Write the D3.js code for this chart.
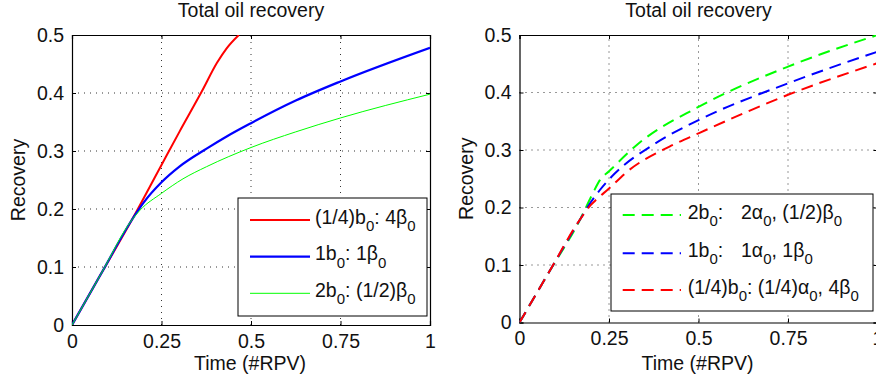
<!DOCTYPE html>
<html>
<head>
<meta charset="utf-8">
<script src="https://cdn.jsdelivr.net/npm/d3@7"></script>
<style>
  body { margin: 0; background: #fff; }
  text { font-family: "Liberation Sans", Arial, sans-serif; fill: #111; }
</style>
</head>
<body>
<svg id="chart" width="876" height="380"></svg>
<script>
// ticks
let xTicks = [0, 0.25, 0.5, 0.75, 1];
let yTicks = [0, 0.1, 0.2, 0.3, 0.4, 0.5];

// left panel: solid lines
let redTime = [0, 0.08, 0.167, 0.25, 0.3, 0.362, 0.405, 0.432, 0.466];
let redRec  = [0, 0.087, 0.181, 0.276, 0.333, 0.402, 0.452, 0.477, 0.5];
let blueTime = [0, 0.08, 0.167, 0.2, 0.25, 0.3, 0.376, 0.432, 0.5, 0.625, 0.75, 1];
let blueRec  = [0, 0.087, 0.181, 0.211, 0.246, 0.273, 0.304, 0.325, 0.348, 0.387, 0.42, 0.478];
let greenTime = [0, 0.08, 0.167, 0.19, 0.25, 0.31, 0.376, 0.5, 0.625, 0.75, 1];
let greenRec  = [0, 0.087, 0.181, 0.198, 0.227, 0.252, 0.273, 0.306, 0.333, 0.357, 0.398];

// right panel: dashed lines
let greenDTime = [0, 0.08, 0.17, 0.205, 0.225, 0.25, 0.33, 0.5, 0.75, 1];
let greenDRec  = [0, 0.085, 0.18, 0.225, 0.248, 0.263, 0.31, 0.375, 0.445, 0.5];
let blueDTime = [0, 0.08, 0.17, 0.2, 0.224, 0.266, 0.373, 0.5, 0.75, 1];
let blueDRec  = [0, 0.085, 0.18, 0.21, 0.23, 0.259, 0.309, 0.352, 0.416, 0.471];
let redDTime = [0, 0.08, 0.17, 0.2, 0.215, 0.25, 0.3, 0.419, 0.5, 0.75, 1];
let redDRec  = [0, 0.085, 0.18, 0.205, 0.214, 0.233, 0.262, 0.306, 0.329, 0.396, 0.451];

let leftLabels = ['(1/4)b_0: 4β_0', '1b_0: 1β_0', '2b_0: (1/2)β_0'];
let rightLabels = ['2b_0:\t2α_0, (1/2)β_0', '1b_0:\t1α_0, 1β_0', '(1/4)b_0: (1/4)α_0, 4β_0'];

let title = 'Total oil recovery';
let xLabel = 'Time (#RPV)';
let yLabel = 'Recovery';

let svg = d3.select('#chart');
let zip = (xs, ys) => xs.map((x, i) => [x, ys[i]]);

let panels = [
  {id: 'l', x0: 72, x1: 430, y0: 325, y1: 35, dash: null,
   series: [
     {pts: zip(redTime, redRec), color: '#ff0000', w: 2},
     {pts: zip(blueTime, blueRec), color: '#0000ff', w: 2.2},
     {pts: zip(greenTime, greenRec), color: '#00ff00', w: 1}],
   legend: {x: 238, y: 198, w: 189, h: 118, lx0: 250, lx1: 310, tx: 315, tab: 0,
     rows: [220, 256.7, 293.3], labels: leftLabels}},
  {id: 'r', x0: 519.5, x1: 877.5, y0: 322.5, y1: 35, dash: '12,7',
   series: [
     {pts: zip(greenDTime, greenDRec), color: '#00ff00', w: 2},
     {pts: zip(blueDTime, blueDRec), color: '#0000ff', w: 2},
     {pts: zip(redDTime, redDRec), color: '#ff0000', w: 2}],
   legend: {x: 611, y: 194, w: 262, h: 117, lx0: 622.7, lx1: 681, tx: 687.7, tab: 741,
     rows: [215, 253.3, 290], labels: rightLabels}}
];

function richText(sel, str, tab){
  // "_0" -> subscript, "\t" -> jump to tab position
  let parts = str.split(/(_\w|\t)/).filter(s => s.length);
  let lowered = false;
  let jumpX = null;
  parts.forEach(p => {
    if(p === '\t'){
      jumpX = tab;
      return;
    }
    let ts = sel.append('tspan');
    if(p[0] === '_'){
      ts.attr('dy', 7.5).attr('font-size', 15).text(p.slice(1));
      lowered = true;
    } else {
      ts.attr('dy', lowered ? -7.5 : 0).text(p);
      lowered = false;
    }
    if(jumpX !== null){ ts.attr('x', jumpX); jumpX = null; }
  });
}

panels.forEach(p => {
  let sx = d3.scaleLinear().domain([0, 1]).range([p.x0, p.x1]);
  let sy = d3.scaleLinear().domain([0, 0.5]).range([p.y0, p.y1]);
  let g = svg.append('g');

  g.append('clipPath').attr('id', 'clip-' + p.id)
  .append('rect')
  .attr('x', p.x0).attr('y', p.y1)
  .attr('width', p.x1 - p.x0).attr('height', p.y0 - p.y1);

  // dotted grid
  g.selectAll('.gx').data(xTicks.slice(1, -1)).enter().append('line')
  .attr('x1', d => sx(d)).attr('x2', d => sx(d))
  .attr('y1', p.y0).attr('y2', p.y1)
  .attr('stroke', '#333').attr('stroke-width', 1).attr('stroke-dasharray', '1,5');
  g.selectAll('.gy').data(yTicks.slice(1, -1)).enter().append('line')
  .attr('y1', d => sy(d)).attr('y2', d => sy(d))
  .attr('x1', p.x0).attr('x2', p.x1)
  .attr('stroke', '#333').attr('stroke-width', 1).attr('stroke-dasharray', '1,5');

  // axes with inward ticks on all sides
  let tl = 4;
  g.append('g').attr('transform', `translate(0,${p.y0})`)
  .call(d3.axisBottom(sx).tickValues(xTicks).tickFormat(d3.format('~g')).tickSize(-tl).tickPadding(9));
  g.append('g').attr('transform', `translate(0,${p.y1})`)
  .call(d3.axisTop(sx).tickValues(xTicks).tickSize(-tl).tickFormat(''));
  g.append('g').attr('transform', `translate(${p.x0},0)`)
  .call(d3.axisLeft(sy).tickValues(yTicks).tickFormat(d3.format('~g')).tickSize(-tl).tickPadding(8));
  g.append('g').attr('transform', `translate(${p.x1},0)`)
  .call(d3.axisRight(sy).tickValues(yTicks).tickSize(-tl).tickFormat(''));
  g.selectAll('.domain').attr('stroke', '#000').attr('stroke-width', 1.2);
  g.selectAll('.tick line').attr('stroke', '#000');
  g.selectAll('.tick text').attr('font-size', 19.5).attr('fill', '#111')
  .attr('font-family', '"Liberation Sans", Arial, sans-serif');

  // curves
  let line = d3.line().x(d => sx(d[0])).y(d => sy(d[1])).curve(d3.curveMonotoneX);
  g.append('g').attr('clip-path', `url(#clip-${p.id})`)
  .selectAll('path').data(p.series).enter().append('path')
  .attr('d', d => line(d.pts))
  .attr('fill', 'none')
  .attr('stroke', d => d.color)
  .attr('stroke-width', d => d.w)
  .attr('stroke-dasharray', p.dash);

  // titles
  let cx = (p.x0 + p.x1) / 2;
  g.append('text').attr('x', cx).attr('y', 17).attr('text-anchor', 'middle')
  .attr('font-size', 19.5).text(title);
  g.append('text').attr('x', cx - 1).attr('y', 370)
  .attr('text-anchor', 'middle').attr('font-size', 19.5).text(xLabel);
  g.append('text')
  .attr('transform', `translate(${p.x0 - 47},${(p.y0 + p.y1) / 2}) rotate(-90)`)
  .attr('text-anchor', 'middle').attr('font-size', 19.5).text(yLabel);

  // legend
  let L = p.legend;
  g.append('rect').attr('x', L.x).attr('y', L.y).attr('width', L.w).attr('height', L.h)
  .attr('fill', '#fff').attr('stroke', '#000').attr('stroke-width', 1);
  p.series.forEach((s, i) => {
    g.append('line')
    .attr('x1', L.lx0).attr('x2', L.lx1).attr('y1', L.rows[i]).attr('y2', L.rows[i])
    .attr('stroke', s.color).attr('stroke-width', s.w)
    .attr('stroke-dasharray', p.dash);
    let t = g.append('text').attr('x', L.tx).attr('y', L.rows[i] + 3.5).attr('font-size', 19.5);
    richText(t, L.labels[i], L.tab);
  });
});
</script>
</body>
</html>
